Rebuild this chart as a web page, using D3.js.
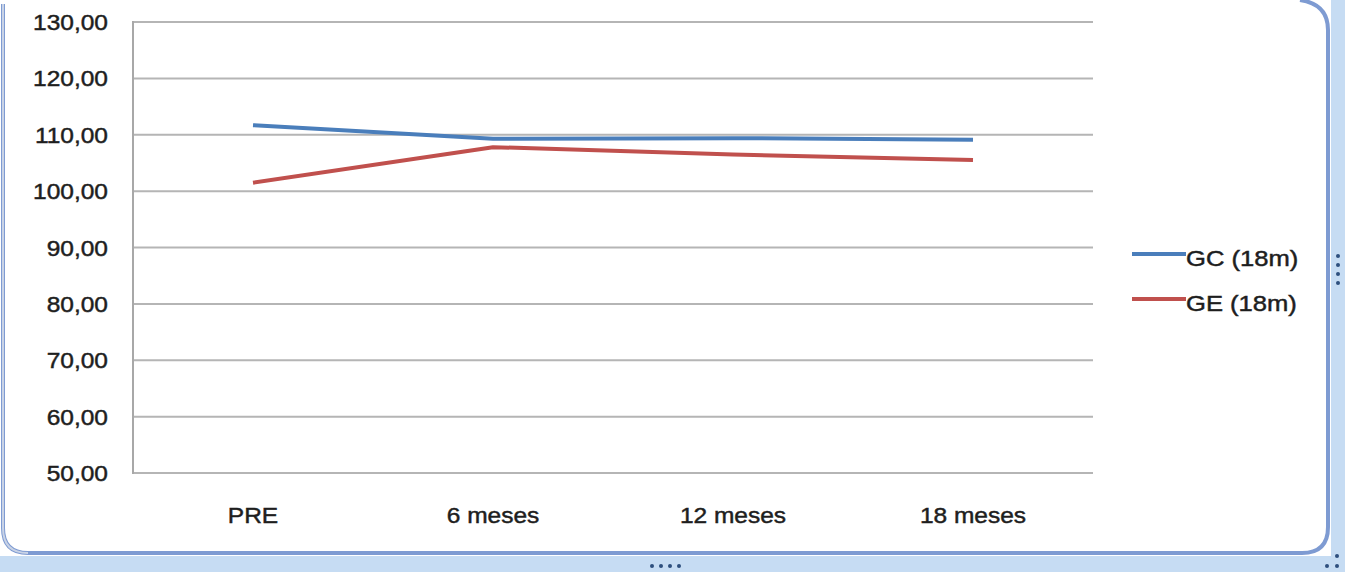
<!DOCTYPE html>
<html>
<head>
<meta charset="utf-8">
<script src="https://cdn.jsdelivr.net/npm/d3@7"></script>
<style>
  html, body { margin: 0; padding: 0; background: #fff; }
  svg { display: block; font-family: "Liberation Sans", Arial, sans-serif; }
  .lbl { fill: #1e1e1e; stroke: #1e1e1e; stroke-width: 0.45px; }
</style>
</head>
<body>
<svg id="chart" width="1345" height="572"></svg>
<script>
// Periods on the x axis
const periods = ["PRE", "6 meses", "12 meses", "18 meses"];
// Mean values per group
const gcValues = [111.7, 109.3, 109.4, 109.1];
const geValues = [101.5, 107.8, 106.5, 105.5];
const seriesNames = ["GC (18m)", "GE (18m)"];
const seriesColors = ["#4a7ebb", "#c0504d"];
// Y axis ticks
const yTicks = [50, 60, 70, 80, 90, 100, 110, 120, 130];

const svg = d3.select("#chart");
const W = 1345, H = 572;
const stretch = "scale(1.14,1)";
const fontSize = 21.5;

// ---- window frame ----
const frame = svg.append("g");
frame.append("rect").attr("x", 1331).attr("y", 0).attr("width", 14).attr("height", H).attr("fill", "#c6dcf3");
frame.append("rect").attr("x", 0).attr("y", 556).attr("width", W).attr("height", 16).attr("fill", "#c6dcf3");
frame.append("path")
  .attr("d", "M3,4 L3,528 Q3,553 28,553 L1302,553 Q1328,553 1328,527 L1328,30 Q1328,4 1300,0")
  .attr("fill", "none").attr("stroke", "#7e9bd2").attr("stroke-width", 4);
frame.append("path")
  .attr("d", "M3,4 L3,528 Q3,553 28,553")
  .attr("fill", "none").attr("stroke", "#c9d3e6").attr("stroke-width", 2);
// grip dots
const dots = [];
for (let i = 0; i < 4; i++) dots.push([652 + i * 9, 566]);
for (let i = 0; i < 4; i++) dots.push([1338, 256 + i * 9]);
dots.push([1337, 556], [1337, 566], [1327, 566]);
frame.selectAll("circle.grip").data(dots).join("circle")
  .attr("cx", d => d[0]).attr("cy", d => d[1]).attr("r", 2).attr("fill", "#2e4f7e");

// ---- plot area ----
const plot = { left: 133, right: 1093, top: 22, bottom: 473 };
const x = d3.scaleBand().domain(periods).range([plot.left, plot.right]);
const y = d3.scaleLinear().domain([50, 130]).range([plot.bottom, plot.top]);

// gridlines
svg.append("g").selectAll("line").data(yTicks).join("line")
  .attr("x1", plot.left).attr("x2", plot.right)
  .attr("y1", d => y(d)).attr("y2", d => y(d))
  .attr("stroke", "#b5b5b5").attr("stroke-width", 2);
svg.append("line")
  .attr("x1", plot.left).attr("x2", plot.left)
  .attr("y1", plot.top - 1).attr("y2", plot.bottom + 1)
  .attr("stroke", "#a8a8a8").attr("stroke-width", 2);

// y axis labels
const yAxis = d3.axisLeft(y).tickValues(yTicks)
  .tickFormat(d => d3.format(".2f")(d).replace(".", ","))
  .tickSize(0).tickPadding(0);
const yg = svg.append("g").attr("transform", `translate(${plot.left - 25},0)`).call(yAxis);
yg.select(".domain").remove();
yg.selectAll(".tick text")
  .attr("class", "lbl")
  .attr("font-size", fontSize).attr("x", 0).attr("dy", "0.35em")
  .attr("text-anchor", "end").attr("transform", stretch);

// x axis labels
const xAxis = d3.axisBottom(x).tickSize(0).tickPadding(0);
const xg = svg.append("g").attr("transform", `translate(0,${plot.bottom + 42})`).call(xAxis);
xg.select(".domain").remove();
xg.selectAll(".tick text")
  .attr("class", "lbl")
  .attr("font-size", fontSize).attr("y", 0).attr("dy", "0.35em")
  .attr("text-anchor", "middle").attr("transform", stretch);

// lines
const line = d3.line().x((d, i) => x(periods[i]) + x.bandwidth() / 2).y(d => y(d));
[gcValues, geValues].forEach((vals, k) => {
  svg.append("path").datum(vals).attr("d", line)
    .attr("fill", "none").attr("stroke", seriesColors[k]).attr("stroke-width", 4)
    .attr("stroke-linejoin", "round");
});

// legend
const legend = svg.append("g");
seriesNames.forEach((name, k) => {
  const ly = 254 + k * 45;
  legend.append("line").attr("x1", 1132).attr("x2", 1186).attr("y1", ly).attr("y2", ly)
    .attr("stroke", seriesColors[k]).attr("stroke-width", 4);
  legend.append("text").attr("class", "lbl")
    .attr("x", 1186 / 1.19).attr("y", ly + 4).attr("dy", "0.35em")
    .attr("transform", "scale(1.19,1)")
    .attr("font-size", fontSize).text(name);
});
</script>
</body>
</html>
